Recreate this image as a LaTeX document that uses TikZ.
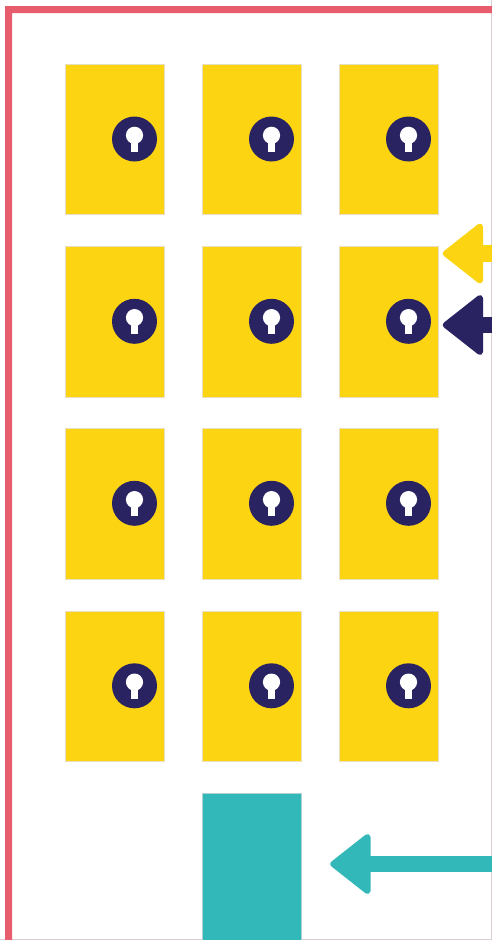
\documentclass[tikz,border=0pt]{standalone}
\definecolor{frameRed}{HTML}{E85D6E}
\definecolor{doorYellow}{HTML}{FCD412}
\definecolor{doorEdge}{HTML}{E6DFC0}
\definecolor{navyKey}{HTML}{2A2362}
\definecolor{tealDoor}{HTML}{33B8B9}
\definecolor{tealEdge}{HTML}{B4CFCF}
\definecolor{thinEdge}{HTML}{DCCFD3}
\tikzset{
  x=1pt,y=-1pt,
  doorbox/.style={fill=doorYellow,draw=doorEdge,line width=0.6pt},
  keydisc/.style={fill=navyKey},
  keyhole/.style={fill=white},
  arrowshape/.style={line width=6pt,line join=round},
}
\newcommand{\leftarrowshape}[4]{% colour, tip x, mid y, half shaft
  \filldraw[#1,arrowshape] (#2+3.2,#3) -- (#2+37.5,#3-27) -- (#2+37.5,#3+27) -- cycle;
  \fill[#1] (#2+38,#3-#4) rectangle (492,#3+#4);
}
\begin{document}
\begin{tikzpicture}
\useasboundingbox (0,0) rectangle (492,940);
\fill[white] (0,0) rectangle (492,940);
% outer frame
\draw[thinEdge,line width=0.8pt] (491.5,0) -- (491.5,939.5) -- (0,939.5);
\fill[frameRed] (5,940) -- (5,6) -- (492,6) -- (492,13) -- (12,13) -- (12,940) -- cycle;
% doors
\foreach \y in {64,246.3,428.3,610.8}{
  \foreach \x in {65,202,339}{
    \draw[doorbox] (\x,\y) rectangle ++(99.6,150.7);
    \fill[keydisc] (\x+69.5,\y+75) circle (22.5);
    \fill[keyhole] (\x+69.5,\y+71.3) circle (8.6);
    \fill[keyhole] (\x+66,\y+73) rectangle (\x+73,\y+88);
  }
}
% teal door
\fill[tealDoor] (202.3,793) rectangle (301.7,940);
\draw[tealEdge,line width=0.5pt] (202.3,940) -- (202.3,793) -- (301.7,793) -- (301.7,940);
% arrows
\leftarrowshape{doorYellow}{442.5}{253.5}{8.5}
\leftarrowshape{navyKey}{442.5}{325}{8}
\leftarrowshape{tealDoor}{330}{864}{8}
\end{tikzpicture}
\end{document}
